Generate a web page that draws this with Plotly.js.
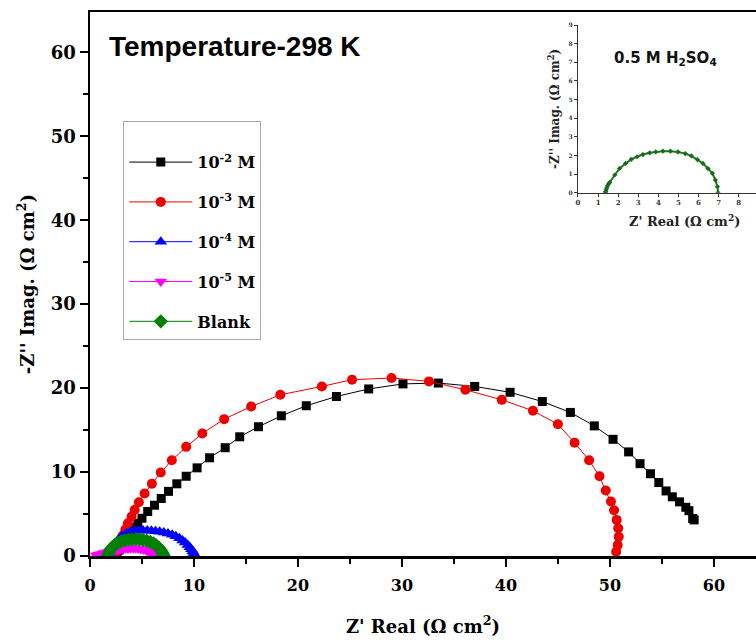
<!DOCTYPE html>
<html>
<head>
<meta charset="utf-8">
<script src="https://cdn.plot.ly/plotly-3.0.1.min.js"></script>
<style>html,body{margin:0;padding:0;background:#fff;}#chart{width:756px;height:642px;}</style>
</head>
<body>
<div id="chart"></div>
<script>
// ---- Data ----
const seriesNames = ["10<sup>-2</sup> M", "10<sup>-3</sup> M", "10<sup>-4</sup> M", "10<sup>-5</sup> M", "Blank"];

const m2Re = [2.6, 2.8, 3.1, 3.4, 3.7, 4.0, 4.3, 4.6, 5.0, 5.55, 6.2, 6.85, 7.55, 8.35, 9.25, 10.3, 11.5, 13.0, 14.4, 16.2, 18.4, 20.8, 23.7, 26.8, 30.1, 33.5, 37.0, 40.4, 43.5, 46.2, 48.5, 50.3, 51.8, 52.9, 53.9, 54.7, 55.4, 56.0, 56.7, 57.3, 57.6, 57.96, 58.1];
const m2Im = [0.2, 0.7, 1.3, 1.9, 2.4, 2.9, 3.4, 3.9, 4.5, 5.3, 6.05, 6.85, 7.7, 8.6, 9.5, 10.5, 11.7, 12.9, 14.2, 15.4, 16.7, 17.9, 19.0, 19.9, 20.5, 20.6, 20.2, 19.5, 18.4, 17.1, 15.5, 13.9, 12.4, 11.0, 9.8, 8.75, 7.75, 7.05, 6.45, 5.8, 5.4, 4.47, 4.3];

const m3Re = [2.5, 2.7, 2.9, 3.15, 3.4, 3.65, 4.0, 4.3, 4.7, 5.25, 5.95, 6.8, 7.87, 9.25, 10.8, 12.9, 15.5, 18.3, 22.3, 25.2, 29.0, 32.6, 36.1, 39.6, 42.6, 45.0, 46.6, 48.0, 49.0, 49.6, 50.1, 50.4, 50.65, 50.8, 50.85, 50.75, 50.6];
const m3Im = [0.4, 1.05, 1.75, 2.45, 3.15, 3.9, 4.7, 5.5, 6.4, 7.45, 8.6, 9.95, 11.4, 13.0, 14.6, 16.3, 17.8, 19.2, 20.2, 21.0, 21.2, 20.8, 19.8, 18.6, 17.3, 15.7, 13.5, 11.4, 9.5, 7.8, 6.5, 5.45, 4.3, 3.3, 2.3, 1.3, 0.5];

const m4Re = [2.0, 2.2, 2.45, 2.75, 3.1, 3.5, 3.9, 4.3, 4.7, 5.1, 5.5, 5.9, 6.3, 6.7, 7.1, 7.5, 7.9, 8.25, 8.6, 8.9, 9.15, 9.4, 9.6, 9.75, 9.88, 9.97, 10.03, 10.07];
const m4Im = [0.3, 0.9, 1.5, 2.0, 2.4, 2.7, 2.9, 3.0, 3.05, 3.05, 3.03, 3.0, 2.95, 2.88, 2.8, 2.68, 2.52, 2.34, 2.1, 1.85, 1.6, 1.32, 1.05, 0.8, 0.57, 0.36, 0.18, 0.03];

const m5Re = [0.6, 0.8, 1.0, 1.2, 1.4, 1.65, 1.9, 2.15, 2.4, 2.65, 2.9, 3.15, 3.4, 3.65, 3.9, 4.15, 4.4, 4.65, 4.9, 5.15, 5.4, 5.6, 5.8, 5.95, 6.05, 6.1];
const m5Im = [0.05, 0.15, 0.22, 0.3, 0.37, 0.45, 0.53, 0.6, 0.67, 0.73, 0.79, 0.84, 0.88, 0.9, 0.92, 0.92, 0.91, 0.88, 0.84, 0.77, 0.67, 0.57, 0.44, 0.3, 0.16, 0.04];

const blankRe = [1.7, 1.8, 1.95, 2.15, 2.4, 2.7, 3.0, 3.35, 3.7, 4.05, 4.4, 4.75, 5.1, 5.45, 5.8, 6.1, 6.35, 6.6, 6.8, 6.93, 7.02, 7.07];
const blankIm = [0.05, 0.4, 0.75, 1.05, 1.35, 1.58, 1.75, 1.87, 1.95, 1.99, 2.0, 1.98, 1.93, 1.83, 1.68, 1.5, 1.28, 1.0, 0.72, 0.45, 0.2, 0.03];

// inset: 0.5 M H2SO4
const insetRe = [1.36, 1.38, 1.4, 1.43, 1.47, 1.52, 1.58, 1.83, 2.07, 2.37, 2.65, 2.94, 3.23, 3.57, 3.87, 4.23, 4.6, 4.98, 5.34, 5.64, 5.94, 6.22, 6.47, 6.69, 6.84, 6.94, 6.97];
const insetIm = [0.0, 0.05, 0.15, 0.25, 0.37, 0.47, 0.55, 0.95, 1.3, 1.57, 1.79, 1.93, 2.05, 2.14, 2.19, 2.23, 2.23, 2.19, 2.1, 1.98, 1.78, 1.57, 1.3, 1.04, 0.68, 0.32, 0.0];

const xTickVals = [0, 10, 20, 30, 40, 50, 60];
const yTickVals = [0, 10, 20, 30, 40, 50, 60];
const insetTickVals = [0, 1, 2, 3, 4, 5, 6, 7, 8, 9];

// ---- Traces ----
const serif = "DejaVu Serif, serif";
const sans = "Liberation Sans, Arial, sans-serif";

function tr(x, y, name, color, symbol, size, grp) {
  return {
    x: x, y: y, name: name, type: 'scatter', mode: 'lines+markers',
    legendgroup: grp,
    line: {color: color, width: 1},
    marker: {color: color, symbol: symbol, size: size},
    xaxis: 'x', yaxis: 'y'
  };
}

const traces = [
  tr(m2Re, m2Im, seriesNames[0], '#000000', 'square', 9, 'a'),
  tr(m3Re, m3Im, seriesNames[1], '#ee0000', 'circle', 10, 'b'),
  tr(m4Re, m4Im, seriesNames[2], '#0000ff', 'triangle-up', 11, 'c'),
  tr(m5Re, m5Im, seriesNames[3], '#ff00ff', 'triangle-down', 11, 'd'),
  tr(blankRe, blankIm, seriesNames[4], '#008000', 'diamond', 11, 'e'),
  {
    x: insetRe, y: insetIm, type: 'scatter', mode: 'lines+markers',
    line: {color: '#1a7a1a', width: 2},
    marker: {color: '#1a6a1a', symbol: 'diamond', size: 4},
    xaxis: 'x2', yaxis: 'y2', showlegend: false
  }
];

const layout = {
  width: 756, height: 642,
  margin: {l: 90, r: 0, t: 12, b: 86},
  paper_bgcolor: '#fff', plot_bgcolor: '#fff',
  font: {family: serif, color: '#000'},
  showlegend: true,
  legend: {
    x: 0.05, y: 0.8, xanchor: 'left', yanchor: 'top',
    bgcolor: '#fff', bordercolor: '#aaa', borderwidth: 1,
    font: {family: serif, size: 16, color: '#000', weight: 'bold'},
    title: {text: ' ', font: {size: 18}},
    itemwidth: 63, tracegroupgap: 16
  },
  xaxis: {
    range: [0, 64.05], domain: [0, 1],
    showline: true, linewidth: 2.5, linecolor: '#000', mirror: true,
    showgrid: false, zeroline: false,
    tickvals: xTickVals, ticks: 'outside', ticklen: 8, tickwidth: 2, tickcolor: '#000',
    minor: {dtick: 5, ticks: 'outside', ticklen: 5, tickwidth: 2, tickcolor: '#000', showgrid: false},
    tickfont: {family: serif, size: 16, color: '#000', weight: 'bold'},
    ticklabelstandoff: 5,
    title: {text: "Z' Real (Ω cm<sup>2</sup>)", font: {family: serif, size: 18, weight: 'bold'}, standoff: 27}
  },
  yaxis: {
    range: [0, 64.8], domain: [0, 1],
    showline: true, linewidth: 2.5, linecolor: '#000',
    showgrid: false, zeroline: false,
    tickvals: yTickVals, ticks: 'outside', ticklen: 8, tickwidth: 2, tickcolor: '#000',
    minor: {dtick: 5, ticks: 'outside', ticklen: 5, tickwidth: 2, tickcolor: '#000', showgrid: false},
    tickfont: {family: serif, size: 18, color: '#000', weight: 'bold'},
    title: {text: "-Z'' Imag. (Ω cm<sup>2</sup>)", font: {family: serif, size: 18, weight: 'bold'}, standoff: 12}
  },
  xaxis2: {
    anchor: 'y2', domain: [0.7327, 1], range: [0, 8.86],
    showline: true, linewidth: 1.2, linecolor: '#333',
    showgrid: false, zeroline: false,
    tickvals: insetTickVals, ticks: 'outside', ticklen: 3, tickwidth: 1, tickcolor: '#333',
    tickfont: {family: serif, size: 7, color: '#333', weight: 'bold'}
  },
  yaxis2: {
    anchor: 'x2', domain: [0.6678, 0.976], range: [0, 9],
    showline: true, linewidth: 1.2, linecolor: '#333',
    showgrid: false, zeroline: false,
    tickvals: insetTickVals, ticks: 'outside', ticklen: 3, tickwidth: 1, tickcolor: '#333',
    tickfont: {family: serif, size: 6, color: '#333', weight: 'bold'},
    title: {text: "-Z'' Imag. (Ω cm<sup>2</sup>)", font: {family: serif, size: 12, color: '#222', weight: 'bold'}, standoff: 6}
  },
  annotations: [
    {
      xref: 'paper', yref: 'paper', x: (107 - 90) / 666, y: (556 - 46) / 544,
      xanchor: 'left', yanchor: 'middle', showarrow: false,
      text: 'Temperature-298 K', font: {family: sans, size: 28, color: '#000', weight: 'bold'}
    },
    {
      xref: 'paper', yref: 'paper', x: (665 - 90) / 666, y: (556 - 58) / 544,
      xanchor: 'center', yanchor: 'middle', showarrow: false,
      text: '0.5 M H<sub>2</sub>SO<sub>4</sub>', font: {family: "DejaVu Sans, sans-serif", size: 15, color: '#111', weight: 'bold'}
    },
    {
      xref: 'paper', yref: 'paper', x: (684 - 90) / 666, y: (556 - 220) / 544,
      xanchor: 'center', yanchor: 'middle', showarrow: false,
      text: "Z' Real (Ω cm<sup>2</sup>)", font: {family: serif, size: 13, color: '#222', weight: 'bold'}
    }
  ]
};

Plotly.newPlot('chart', traces, layout, {displayModeBar: false, staticPlot: true});
</script>
</body>
</html>
